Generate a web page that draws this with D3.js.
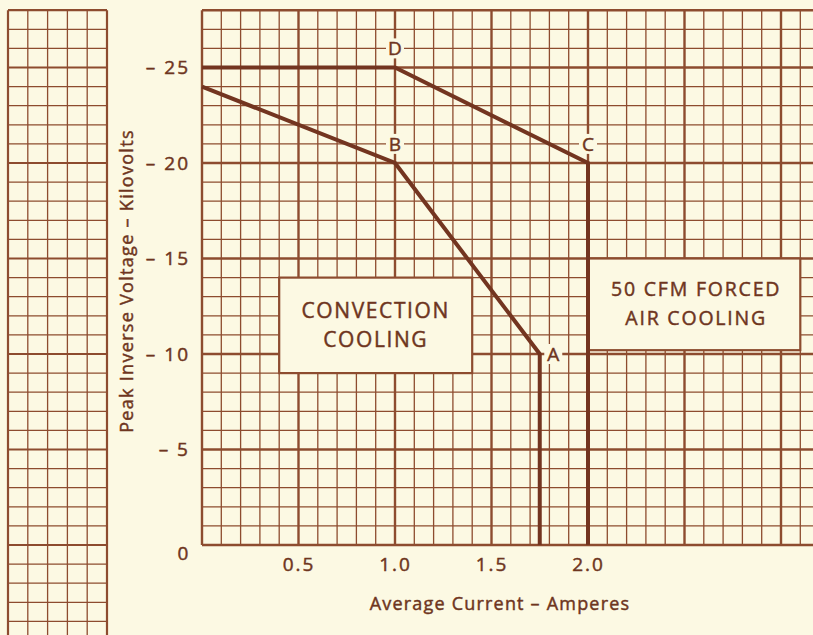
<!DOCTYPE html>
<html>
<head>
<meta charset="utf-8">
<script src="https://cdn.jsdelivr.net/npm/d3@7"></script>
<style>
  html, body { margin: 0; padding: 0; background: #fcf9e3; }
  svg { display: block; }
  text { font-family: "Open Sans", "Lato", sans-serif; fill: #6e3520; font-weight: 400;
         stroke: #6e3520; stroke-width: 0.45px; }
</style>
</head>
<body>
<svg id="chart" width="813" height="635"></svg>
<script>
// ---- data ----
const convectionX = [0, 1.0, 1.75, 1.75];
const convectionY = [24, 20, 10, 0];
const forcedX = [0, 1.0, 2.0, 2.0];
const forcedY = [25, 25, 20, 0];
const pointLabels = ["D", "B", "C", "A"];
const pointLabelX = [1.0, 1.0, 2.0, 1.82];
const pointLabelY = [26, 21, 21, 10];
const xTickValues = [0.5, 1.0, 1.5, 2.0];
const xTickLabels = ["0.5", "1.0", "1.5", "2.0"];
const yTickValues = [5, 10, 15, 20, 25];
const yTickLabels = ["\u2013 5", "\u2013 10", "\u2013 15", "\u2013 20", "\u2013 25"];
const zeroLabel = "0";
const boxNames = ["convection", "forced"];
const boxLines = [["CONVECTION", "COOLING"], ["50 CFM FORCED", "AIR COOLING"]];
const boxX0 = [0.4, 2.0], boxX1 = [1.4, 3.1];
const boxY0 = [9, 10.2], boxY1 = [14, 15];
const xTitle = "Average Current \u2013 Amperes";
const yTitle = "Peak Inverse Voltage \u2013 Kilovolts";

// ---- scales ----
const svg = d3.select("#chart");
const W = 813, H = 635;
const x = d3.scaleLinear().domain([0, 2]).range([202, 588]);
const y = d3.scaleLinear().domain([0, 25]).range([545, 67.5]);
const xp = d3.scaleLinear().domain([0, 5]).range([8, 107]); // left strip
const gridColor = "#8d4c2f";
const inkColor = "#733520";
const bg = "#fcf9e3";

svg.append("rect").attr("width", W).attr("height", H).attr("fill", bg);

const xMax = x.invert(W + 2);
const yTop = 28;

// ---- left strip grid ----
const strip = svg.append("g");
const stripRows = d3.range(-5, yTop + 1, 1);
strip.selectAll("line.h").data(stripRows).join("line")
  .attr("x1", xp(0)).attr("x2", xp(5))
  .attr("y1", d => y(d)).attr("y2", d => y(d))
  .attr("stroke", gridColor)
  .attr("stroke-width", d => (d % 5 === 0 || d === yTop) ? 2.2 : 1.3);
strip.selectAll("line.v").data(d3.range(0, 6)).join("line")
  .attr("x1", d => xp(d)).attr("x2", d => xp(d))
  .attr("y1", y(yTop)).attr("y2", H)
  .attr("stroke", gridColor)
  .attr("stroke-width", d => (d === 0 || d === 5) ? 2.2 : 1.3);

// ---- main grid ----
const grid = svg.append("g");
const vCols = d3.range(0, Math.ceil(xMax * 10) + 1).map(i => i / 10);
grid.selectAll("line.v").data(vCols).join("line")
  .attr("x1", d => x(d)).attr("x2", d => x(d))
  .attr("y1", y(yTop)).attr("y2", y(0))
  .attr("stroke", gridColor)
  .attr("stroke-width", (d, i) => i % 5 === 0 ? 2.4 : 1.3);
const hRows = d3.range(0, yTop + 1, 1);
grid.selectAll("line.h").data(hRows).join("line")
  .attr("x1", x(0)).attr("x2", W)
  .attr("y1", d => y(d)).attr("y2", d => y(d))
  .attr("stroke", gridColor)
  .attr("stroke-width", d => (d % 5 === 0 || d === yTop) ? 2.4 : 1.3);

// ---- annotation boxes ----
const boxes = svg.append("g");
boxNames.forEach((name, i) => {
  const bx0 = x(boxX0[i]), bx1 = x(boxX1[i]);
  const by0 = y(boxY1[i]), by1 = y(boxY0[i]);
  boxes.append("rect")
    .attr("x", bx0).attr("y", by0)
    .attr("width", bx1 - bx0).attr("height", by1 - by0)
    .attr("fill", bg).attr("stroke", gridColor).attr("stroke-width", 2.2);
  const cx = (bx0 + bx1) / 2, cy = (by0 + by1) / 2;
  boxLines[i].forEach((t, j) => {
    boxes.append("text")
      .attr("x", cx + (i === 1 ? 2 : 0))
      .attr("y", cy + (j - 0.5) * 29 + (i === 1 ? 6 : 7))
      .attr("text-anchor", "middle")
      .attr("font-size", i === 0 ? 21 : 19.5)
      .attr("letter-spacing", i === 0 ? 1.6 : 1.8)
      .text(t);
  });
});

// ---- curves ----
const line = d3.line().x(d => x(d[0])).y(d => y(d[1]));
const curves = svg.append("g");
curves.append("path")
  .datum(convectionX.map((v, i) => [v, convectionY[i]]))
  .attr("d", line).attr("fill", "none")
  .attr("stroke", inkColor).attr("stroke-width", 4)
  .attr("stroke-linejoin", "miter");
curves.append("path")
  .datum(forcedX.map((v, i) => [v, forcedY[i]]))
  .attr("d", line).attr("fill", "none")
  .attr("stroke", inkColor).attr("stroke-width", 4)
  .attr("stroke-linejoin", "miter");

// ---- point labels ----
const pl = svg.append("g");
pointLabels.forEach((t, i) => {
  const px = x(pointLabelX[i]), py = y(pointLabelY[i]);
  pl.append("rect")
    .attr("x", px - 9).attr("y", py - 10)
    .attr("width", 18).attr("height", 20)
    .attr("fill", bg);
  pl.append("text")
    .attr("x", px).attr("y", py + 7)
    .attr("text-anchor", "middle")
    .attr("font-size", 19)
    .text(t);
});

// ---- axes ----
const xAxis = d3.axisBottom(x).tickValues(xTickValues)
  .tickFormat((d, i) => xTickLabels[i]).tickSize(0).tickPadding(13);
const gx = svg.append("g").attr("transform", `translate(0,${y(0)})`).call(xAxis);
gx.select(".domain").remove();
gx.selectAll("text").attr("font-size", 19).attr("letter-spacing", 2)
  .attr("font-family", "'Open Sans', sans-serif").attr("fill", "#6e3520");

const yAxis = d3.axisLeft(y).tickValues(yTickValues)
  .tickFormat((d, i) => yTickLabels[i]).tickSize(0).tickPadding(12);
const gy = svg.append("g").attr("transform", `translate(${x(0)},0)`).call(yAxis);
gy.select(".domain").remove();
gy.selectAll("text").attr("font-size", 19).attr("letter-spacing", 2)
  .attr("font-family", "'Open Sans', sans-serif").attr("fill", "#6e3520");

svg.append("text")
  .attr("x", x(0) - 19).attr("y", y(0) + 15)
  .attr("text-anchor", "middle").attr("font-size", 19)
  .text(zeroLabel);

// ---- titles ----
svg.append("text")
  .attr("x", 500).attr("y", 610)
  .attr("text-anchor", "middle").attr("font-size", 18)
  .attr("letter-spacing", 1.2)
  .text(xTitle);
svg.append("text")
  .attr("transform", `translate(133,${281}) rotate(-90)`)
  .attr("text-anchor", "middle").attr("font-size", 18)
  .attr("letter-spacing", 1.3)
  .text(yTitle);
</script>
</body>
</html>
